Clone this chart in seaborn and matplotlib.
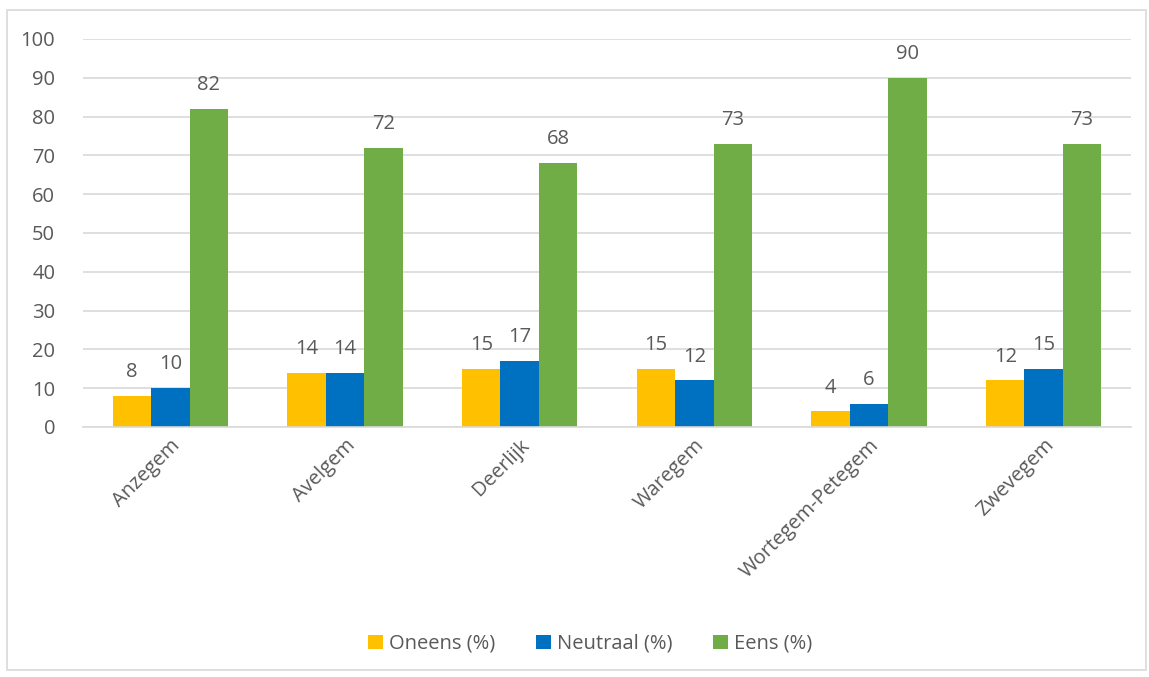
import matplotlib
matplotlib.use("Agg")
import matplotlib.pyplot as plt
import seaborn as sns
import pandas as pd
from matplotlib.patches import Rectangle

categories = ["Anzegem", "Avelgem", "Deerlijk", "Waregem", "Wortegem-Petegem", "Zwevegem"]
oneens = [8, 14, 15, 15, 4, 12]
neutraal = [10, 14, 17, 12, 6, 15]
eens = [82, 72, 68, 73, 90, 73]
series_names = ["Oneens (%)", "Neutraal (%)", "Eens (%)"]
colors = ["#FFC000", "#0070C0", "#70AD47"]

rows = []
for name, vals in zip(series_names, [oneens, neutraal, eens]):
    for c, v in zip(categories, vals):
        rows.append({"Gemeente": c, "Reeks": name, "Waarde": v})
df = pd.DataFrame(rows)

sns.set_theme(style="white")
plt.rcParams['font.family'] = ['Open Sans', 'DejaVu Sans']
text_color = "#595959"

fig = plt.figure(figsize=(11.49, 6.77), dpi=100)
ax = fig.add_axes([83/1149, 1-427/677, (1131-83)/1149, (427-39)/677])

sns.barplot(data=df, x="Gemeente", y="Waarde", hue="Reeks", order=categories,
            hue_order=series_names, palette=colors, width=0.66, gap=0,
            saturation=1, ax=ax, errorbar=None, legend=True, linewidth=0)

ax.set_ylim(0, 100)
ax.set_yticks(range(0, 101, 10))
ax.yaxis.grid(True, color="#D9D9D9", linewidth=1.2)
ax.set_axisbelow(True)
for s in ["top", "right", "left"]:
    ax.spines[s].set_visible(False)
ax.spines["bottom"].set_color("#D9D9D9")
ax.spines["bottom"].set_linewidth(1.2)
ax.set_xlabel("")
ax.set_ylabel("")
ax.tick_params(axis="y", length=0, labelsize=14.5, labelcolor=text_color, pad=20)
ax.tick_params(axis="x", length=0, labelsize=14.5, labelcolor=text_color, pad=6)
for lbl in ax.get_xticklabels():
    lbl.set_rotation(45)
    lbl.set_ha("right")
    lbl.set_rotation_mode("anchor")

for cont in ax.containers:
    ax.bar_label(cont, fmt="%d", padding=10, fontsize=14.5, color=text_color)

leg = ax.legend(loc="center", bbox_to_anchor=(590/1149, 1-644/677),
                bbox_transform=fig.transFigure, ncol=3, frameon=False,
                fontsize=14.5, handlelength=0.75, handleheight=0.75,
                handletextpad=0.3, columnspacing=2.0)
for t in leg.get_texts():
    t.set_color(text_color)

fig.patches.append(Rectangle((7/1149, 1-670/677), (1146-7)/1149, (670-10)/677,
                             transform=fig.transFigure, fill=False,
                             edgecolor="#D9D9D9", linewidth=1.2))

fig.savefig("out.png", dpi=100)
